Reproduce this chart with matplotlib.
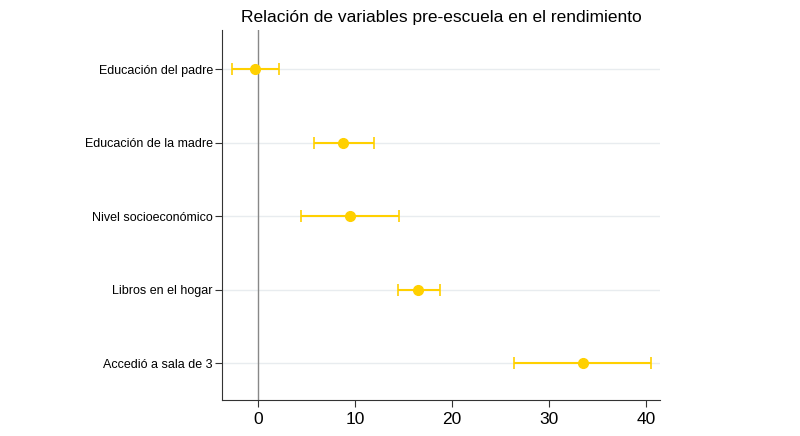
import numpy as np
import matplotlib.pyplot as plt

plt.rcParams['font.family'] = ['Liberation Sans', 'DejaVu Sans']

labels = ["Educación del padre", "Educación de la madre", "Nivel socioeconómico",
          "Libros en el hogar", "Accedió a sala de 3"]
coef = [-0.3, 8.8, 9.5, 16.5, 33.5]
ci_low = [-2.7, 5.8, 4.4, 14.4, 26.4]
ci_high = [2.2, 11.9, 14.5, 18.7, 40.5]

color = "#FFD000"

fig = plt.figure(figsize=(8, 4.36), dpi=100)
ax = fig.add_axes([0.2775, 0.0826, 0.5475, 0.8485])

y = np.arange(len(labels))[::-1]
coef = np.array(coef)
err = [coef - np.array(ci_low), np.array(ci_high) - coef]

for yy in y:
    ax.axhline(yy, color="#e8ecef", lw=1, zorder=0)
ax.axvline(0, color="#888888", lw=1, zorder=1)

ax.errorbar(coef, y, xerr=err, fmt="o", color=color, ecolor=color,
            elinewidth=1.5, capsize=4, capthick=1.2, markersize=7, zorder=3)

ax.set_yticks(y)
ax.set_yticklabels(labels, fontsize=9)
ax.set_xticks([0, 10, 20, 30, 40])
ax.tick_params(axis="x", labelsize=12.5, length=5, color="#333333")
ax.tick_params(axis="y", length=5, color="#333333", pad=1.5)
ax.set_xlim(-3.7, 41.4)
ax.set_ylim(-0.5, 4.53)

for s in ["top", "right"]:
    ax.spines[s].set_visible(False)
for s in ["left", "bottom"]:
    ax.spines[s].set_color("#333333")

ax.set_title("Relación de variables pre-escuela en el rendimiento", fontsize=12.5, pad=6)

fig.savefig("out.png", dpi=100)
